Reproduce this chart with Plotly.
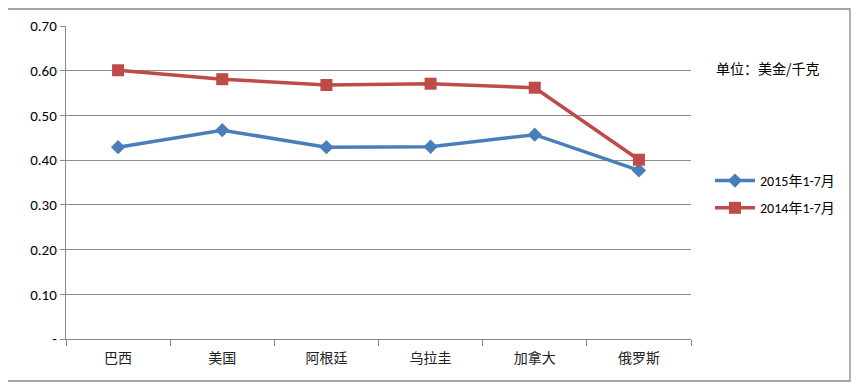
import plotly.graph_objects as go

categories = ["巴西", "美国", "阿根廷", "乌拉圭", "加拿大", "俄罗斯"]
values_2015 = [0.429, 0.467, 0.429, 0.430, 0.457, 0.377]
values_2014 = [0.601, 0.581, 0.568, 0.571, 0.562, 0.401]
series_names = ["2015年1-7月", "2014年1-7月"]
y_tickvals = [0, 0.1, 0.2, 0.3, 0.4, 0.5, 0.6, 0.7]
y_ticktext = ["-", "0.10", "0.20", "0.30", "0.40", "0.50", "0.60", "0.70"]
unit_label = "单位：美金/千克"

# page has an 8px body margin; work in page pixel coords and offset
OFF = 8
W, H = 859 - OFF, 391 - OFF
L, T = 66 - OFF, 26 - OFF
R = W - (691 - OFF)
B = H - (339 - OFF)
pw, ph = W - L - R, H - T - B


def px_x(x):
    return (x - 66) / pw


def px_y(y):
    return (339 - y) / ph


fig = go.Figure()
fig.add_trace(go.Scatter(
    x=categories, y=values_2015, name=series_names[0], mode="lines+markers",
    legendgroup="a",
    line=dict(color="#4A7EBB", width=3.5),
    marker=dict(symbol="diamond", size=11, color="#4A7EBB"),
))
fig.add_trace(go.Scatter(
    x=categories, y=values_2014, name=series_names[1], mode="lines+markers",
    legendgroup="b",
    line=dict(color="#BE4B48", width=3.5),
    marker=dict(symbol="square", size=12, color="#BE4B48"),
))

font_num = "Carlito, Lato, Liberation Sans, Noto Sans CJK SC"
font_cjk = "Noto Sans CJK SC"
fig.update_layout(
    width=W, height=H,
    margin=dict(l=L, r=R, t=T, b=B, autoexpand=False),
    paper_bgcolor="white", plot_bgcolor="white",
    font=dict(family=font_num, size=15, color="#000"),
    showlegend=True,
    legend=dict(
        x=px_x(710), y=px_y(165), xanchor="left", yanchor="top",
        font=dict(family=font_num, size=14),
        bgcolor="rgba(0,0,0,0)", itemwidth=40, tracegroupgap=6,
    ),
    xaxis=dict(
        type="category", range=[-0.5, 5.5],
        showline=True, linecolor="#888", linewidth=1.3,
        ticks="outside", tickson="boundaries", ticklen=6, tickcolor="#888",
        ticklabelstandoff=6,
        showgrid=False, tickfont=dict(family=font_cjk, size=14, color="#222"),
    ),
    yaxis=dict(
        range=[0, 0.7], tickvals=y_tickvals, ticktext=y_ticktext,
        showline=True, linecolor="#888", linewidth=1.3,
        ticks="outside", ticklen=5, tickcolor="#888",
        showgrid=True, gridcolor="#8c8c8c", gridwidth=1, zeroline=False,
        tickfont=dict(family=font_num, size=15, color="#000"),
    ),
    annotations=[dict(
        text=unit_label, xref="paper", yref="paper",
        x=px_x(714), y=px_y(68), xanchor="left", yanchor="middle",
        showarrow=False, font=dict(family=font_cjk, size=14, color="#000"),
    )],
    shapes=[dict(
        type="rect", xref="paper", yref="paper",
        x0=px_x(6), x1=px_x(850),
        y0=px_y(381), y1=px_y(9),
        line=dict(color="#888", width=1.3), layer="below",
    )],
)

fig.write_html("out.html")
